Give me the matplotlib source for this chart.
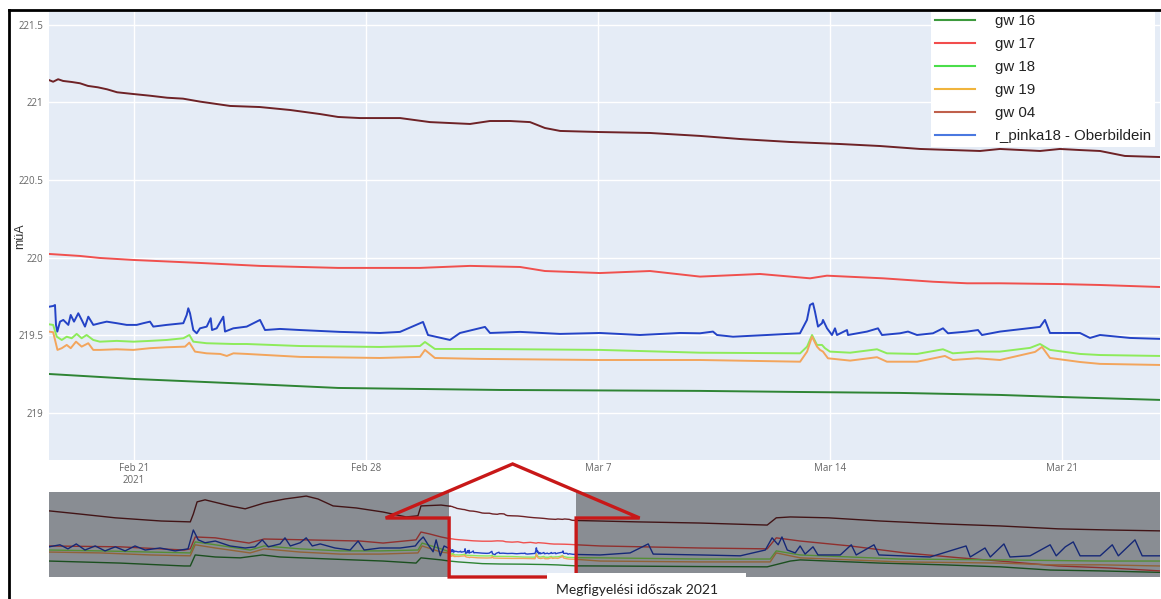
import numpy as np
import pandas as pd
import matplotlib
matplotlib.use("Agg")
import matplotlib.pyplot as plt
import matplotlib.dates as mdates
import matplotlib.transforms as mtransforms
from matplotlib.patches import Polygon, Rectangle
from matplotlib.lines import Line2D

#all times are day offsets from this date
base = pd.Timestamp("2021-02-18")

labels = ["gw 16", "gw 17", "gw 18", "gw 19", "gw 04", "r_pinka18 - Oberbildein"]
line_colors = ["#2e8434", "#f0504e", "#8deb5a", "#f3a55c", "#6e2226", "#2443c6"]
legend_colors = ["#3d9a3d", "#f24d4d", "#4ade4a", "#f0b43c", "#c0604c", "#4a78e0"]

#main window (Feb 18 - Mar 24)
gw16_days = [0.43, 2.98, 6.5, 9.16, 14.04, 20.08, 23.1, 26.11, 29.13, 30.94, 33.96]
gw16 = [219.251, 219.219, 219.187, 219.161, 219.148, 219.142, 219.135, 219.129, 219.116, 219.103, 219.084]

gw17_days = [0.43, 1.37, 1.97, 3.0, 4.99, 6.8, 9.16, 11.63, 13.14, 14.65, 15.4, 17.06,
             18.57, 20.08, 21.89, 23.4, 23.91, 25.6, 27.11, 28.14, 29.13, 30.94, 32.15, 33.96]
gw17 = [220.024, 220.011, 219.998, 219.985, 219.966, 219.947, 219.934, 219.934, 219.947, 219.940, 219.914, 219.901,
        219.914, 219.878, 219.895, 219.867, 219.884, 219.867, 219.845, 219.835, 219.835, 219.830, 219.824, 219.811]

gw18_days = [0.43, 0.56, 0.67, 0.82, 0.97, 1.12, 1.27, 1.42, 1.57, 1.77,
             1.97, 2.48, 2.98, 3.48, 3.99, 4.49, 4.67, 4.79, 5.19, 6.0,
             6.4, 8.01, 10.42, 11.63, 11.78, 12.08, 13.44, 17.06, 20.08, 23.1,
             23.31, 23.46, 23.61, 23.76, 23.85, 24.0, 24.61, 25.42, 25.72, 26.63,
             27.41, 27.71, 28.44, 29.13, 30.04, 30.34, 30.64, 31.55, 32.15, 33.96]
gw18 = [219.571, 219.567, 219.491, 219.470, 219.491, 219.481, 219.509, 219.481, 219.502, 219.470,
        219.459, 219.464, 219.459, 219.464, 219.470, 219.481, 219.502, 219.459, 219.449, 219.444,
        219.444, 219.431, 219.425, 219.431, 219.457, 219.412, 219.412, 219.406, 219.388, 219.384,
        219.427, 219.502, 219.438, 219.438, 219.417, 219.395, 219.388, 219.410, 219.384, 219.380,
        219.410, 219.384, 219.395, 219.395, 219.419, 219.444, 219.406, 219.380, 219.373, 219.367]

gw19_days = [0.43, 0.56, 0.69, 0.82, 0.97, 1.09, 1.25, 1.42, 1.62, 1.77,
             1.97, 2.48, 2.98, 3.48, 3.99, 4.54, 4.67, 4.84, 5.19, 5.6,
             5.8, 6.0, 6.4, 8.01, 10.42, 11.63, 11.78, 12.08, 13.44, 17.06,
             20.08, 23.1, 23.31, 23.46, 23.61, 23.7, 23.79, 23.94, 24.61, 25.42,
             25.72, 26.63, 27.47, 27.71, 28.44, 29.13, 30.19, 30.4, 30.64, 31.55,
             32.15, 33.96]
gw19 = [219.524, 219.520, 219.406, 219.417, 219.438, 219.417, 219.459, 219.427, 219.449, 219.406,
        219.406, 219.410, 219.406, 219.417, 219.423, 219.427, 219.453, 219.395, 219.384, 219.380,
        219.367, 219.384, 219.380, 219.361, 219.354, 219.361, 219.406, 219.354, 219.348, 219.341,
        219.341, 219.330, 219.395, 219.491, 219.427, 219.406, 219.395, 219.352, 219.337, 219.359,
        219.330, 219.330, 219.367, 219.341, 219.352, 219.341, 219.393, 219.425, 219.354, 219.328,
        219.316, 219.309]

gw04_days = [0.43, 0.56, 0.71, 0.86, 1.13, 1.37, 1.61, 1.91, 2.19, 2.49,
             2.97, 3.48, 4.0, 4.48, 4.99, 5.9, 6.8, 7.71, 8.61, 9.16,
             9.82, 11.03, 11.93, 13.14, 13.74, 14.35, 14.95, 15.4, 15.86, 17.06,
             18.57, 20.08, 21.29, 22.8, 24.3, 25.51, 26.72, 28.53, 29.13, 30.34,
             30.94, 31.55, 32.15, 32.9, 33.96]
gw04 = [221.144, 221.133, 221.149, 221.138, 221.131, 221.123, 221.106, 221.097, 221.084, 221.065,
        221.054, 221.043, 221.030, 221.024, 221.005, 220.977, 220.970, 220.951, 220.925, 220.906,
        220.899, 220.899, 220.873, 220.861, 220.880, 220.880, 220.873, 220.835, 220.816, 220.809,
        220.803, 220.784, 220.764, 220.745, 220.732, 220.719, 220.700, 220.687, 220.700, 220.687,
        220.700, 220.693, 220.687, 220.655, 220.648]

pinka_days = [0.435, 0.565, 0.616, 0.646, 0.686, 0.767, 0.867, 1.018, 1.090, 1.190,
              1.319, 1.422, 1.521, 1.621, 1.772, 1.974, 2.176, 2.478, 2.780, 3.081,
              3.281, 3.483, 3.582, 3.987, 4.488, 4.590, 4.638, 4.690, 4.789, 4.892,
              4.992, 5.194, 5.314, 5.354, 5.495, 5.695, 5.746, 5.996, 6.401, 6.802,
              6.953, 7.406, 8.009, 8.613, 9.216, 10.423, 11.027, 11.721, 11.871, 12.535,
              12.837, 13.591, 13.742, 14.647, 15.855, 17.062, 18.268, 19.476, 20.079, 20.471,
              20.592, 21.075, 22.101, 23.096, 23.307, 23.398, 23.489, 23.549, 23.640, 23.761,
              23.791, 23.912, 24.062, 24.153, 24.213, 24.515, 24.545, 25.118, 25.450, 25.571,
              26.114, 26.356, 26.627, 27.110, 27.412, 27.562, 28.136, 28.468, 28.588, 29.131,
              30.339, 30.489, 30.640, 31.545, 31.847, 32.149, 33.054, 33.959]
pinka = [219.684, 219.689, 219.695, 219.567, 219.524, 219.588, 219.599, 219.567, 219.631, 219.588,
         219.642, 219.599, 219.556, 219.620, 219.567, 219.578, 219.588, 219.578, 219.567, 219.567,
         219.578, 219.588, 219.556, 219.567, 219.578, 219.631, 219.674, 219.642, 219.534, 219.513,
         219.545, 219.556, 219.610, 219.534, 219.545, 219.620, 219.524, 219.545, 219.556, 219.599,
         219.534, 219.541, 219.534, 219.528, 219.522, 219.515, 219.522, 219.586, 219.502, 219.470,
         219.515, 219.554, 219.515, 219.522, 219.509, 219.515, 219.502, 219.515, 219.513, 219.524,
         219.502, 219.491, 219.502, 219.513, 219.599, 219.695, 219.706, 219.652, 219.556, 219.578,
         219.599, 219.545, 219.502, 219.545, 219.502, 219.534, 219.502, 219.524, 219.545, 219.502,
         219.513, 219.524, 219.502, 219.513, 219.545, 219.513, 219.524, 219.534, 219.502, 219.524,
         219.554, 219.599, 219.515, 219.515, 219.483, 219.502, 219.483, 219.477]

#rest of the record, only shown in the range slider
gw16_pre_days = [-105.2, -86.4, -69.5, -67.9, -66.6, -61.3, -54.7, -48.9, -44.2, -31.0, -17.0, -8.3, -7.0, -1.7]
gw16_pre = [219.25, 219.18, 219.08, 219.08, 219.46, 219.39, 219.36, 219.46, 219.39, 219.32, 219.25, 219.18, 219.36, 219.29]
gw16_post_days = [40.3, 66.7, 84.4, 90.5, 93.1, 100.5, 114.2, 130.8, 145.9, 159.1, 172.3, 188.1]
gw16_post = [219.08, 219.06, 219.05, 219.25, 219.29, 219.25, 219.18, 219.12, 219.05, 218.94, 218.91, 218.86]

gw17_pre_days = [-105.2, -86.4, -69.5, -67.9, -66.6, -61.3, -52.4, -48.4, -37.3, -23.1, -17.0, -8.3, -7.0, -4.6, -1.7]
gw17_pre = [219.77, 219.74, 219.63, 219.67, 220.08, 220.05, 219.87, 220.01, 219.98, 219.94, 219.87, 219.98, 220.25, 220.18, 220.08]
gw17_post_days = [40.3, 66.7, 84.4, 86.8, 93.1, 106.3, 120.8, 135.3, 145.9, 161.2, 174.9, 188.1]
gw17_post = [219.77, 219.70, 219.67, 220.05, 219.94, 219.77, 219.53, 219.36, 219.25, 219.08, 219.01, 218.91]

gw18_pre_days = [-105.2, -91.7, -78.5, -67.9, -66.6, -61.3, -52.1, -48.4, -38.9, -28.3, -17.8, -7.8, -6.7, -1.7]
gw18_pre = [219.63, 219.60, 219.56, 219.53, 219.91, 219.81, 219.63, 219.77, 219.67, 219.60, 219.60, 219.63, 219.87, 219.67]
gw18_post_days = [40.3, 66.7, 85.2, 86.8, 93.1, 106.3, 119.5, 145.9, 172.3, 188.1]
gw18_post = [219.36, 219.32, 219.32, 219.60, 219.46, 219.39, 219.32, 219.29, 219.25, 219.25]

gw19_pre_days = [-105.2, -91.7, -78.5, -67.9, -66.6, -61.3, -52.1, -48.4, -38.9, -28.3, -17.8, -7.8, -6.7, -1.7]
gw19_pre = [219.56, 219.53, 219.46, 219.43, 219.81, 219.70, 219.53, 219.67, 219.56, 219.49, 219.49, 219.53, 219.77, 219.56]
gw19_post_days = [40.3, 66.7, 85.2, 86.8, 93.1, 106.3, 119.5, 145.9, 159.1, 172.3, 188.1]
gw19_post = [219.25, 219.22, 219.22, 219.53, 219.36, 219.29, 219.22, 219.18, 219.12, 219.12, 219.08]

gw04_pre_days = [-105.2, -97.0, -87.7, -75.6, -67.9, -67.1, -66.1, -64.0, -57.4, -53.4, -48.4,
                 -42.9, -38.9, -37.3, -34.2, -30.2, -24.1, -17.0, -10.9, -7.8, -7.0, -1.7]
gw04_pre = [220.98, 220.87, 220.74, 220.63, 220.60, 220.87, 221.29, 221.36, 221.15, 221.05, 221.25,
            221.39, 221.46, 221.49, 221.39, 221.15, 221.08, 220.94, 220.77, 220.81, 221.15, 221.18]
gw04_post_days = [40.3, 50.1, 66.7, 84.4, 86.8, 90.5, 100.5, 114.2, 130.8, 145.9, 161.2, 174.9, 188.1]
gw04_post = [220.63, 220.60, 220.56, 220.49, 220.74, 220.77, 220.74, 220.63, 220.53, 220.46, 220.36, 220.32, 220.29]

pinka_pre_days = [-105.2, -102.3, -100.2, -98.0, -95.7, -93.0, -90.4, -87.7, -85.1, -82.5,
                  -79.8, -75.9, -71.9, -68.5, -67.1, -65.8, -64.0, -61.3, -57.4, -53.4,
                  -50.8, -48.9, -47.3, -44.2, -42.9, -41.5, -38.9, -37.3, -35.7, -33.6,
                  -29.7, -25.7, -23.6, -22.0, -17.8, -12.5, -8.5, -7.5, -6.4, -5.1,
                  -3.8, -3.0, -1.9, -0.9]
pinka_pre = [219.74, 219.81, 219.67, 219.84, 219.63, 219.77, 219.60, 219.74, 219.60, 219.77,
             219.63, 219.70, 219.60, 219.67, 220.32, 219.98, 219.88, 219.94, 219.77, 219.70,
             219.74, 219.98, 219.74, 219.84, 220.05, 219.77, 219.88, 220.05, 219.77, 219.84,
             219.70, 219.63, 219.94, 219.63, 219.70, 219.70, 219.77, 219.94, 220.08, 219.81,
             219.57, 219.98, 219.43, 219.77]
pinka_post_days = [40.3, 48.2, 53.0, 54.3, 66.7, 77.3, 83.9, 85.7, 87.3, 88.3,
                   89.7, 91.8, 93.1, 94.4, 96.5, 97.8, 103.7, 106.6, 107.9, 112.6,
                   113.9, 119.5, 127.4, 136.9, 138.0, 141.9, 143.3, 146.9, 148.5, 153.8,
                   159.1, 160.7, 163.1, 165.2, 167.0, 172.3, 175.5, 177.1, 181.5, 183.4,
                   188.1]
pinka_post = [219.46, 219.53, 219.84, 219.49, 219.46, 219.43, 219.63, 220.05, 219.81, 220.08,
              219.63, 219.53, 219.77, 219.49, 219.74, 219.46, 219.46, 219.81, 219.46, 219.81,
              219.46, 219.43, 219.39, 219.77, 219.39, 219.70, 219.39, 219.84, 219.39, 219.43,
              219.81, 219.43, 219.74, 219.91, 219.43, 219.43, 219.81, 219.43, 219.98, 219.43,
              219.43]

tick_days = [3, 10, 17, 24, 31]
tick_labels = ["Feb 21\n2021", "Feb 28", "Mar 7", "Mar 14", "Mar 21"]
y_ticks = [219, 219.5, 220, 220.5, 221, 221.5]
y_labels = ["219", "219.5", "220", "220.5", "221", "221.5"]
caption = "Megfigyelési időszak 2021"


def to_dates(days):
    return (base + pd.to_timedelta(np.asarray(days, dtype=float), unit="D")).to_numpy()


main_series = [(gw16_days, gw16), (gw17_days, gw17), (gw18_days, gw18),
               (gw19_days, gw19), (gw04_days, gw04), (pinka_days, pinka)]
pre_series = [(gw16_pre_days, gw16_pre), (gw17_pre_days, gw17_pre), (gw18_pre_days, gw18_pre),
              (gw19_pre_days, gw19_pre), (gw04_pre_days, gw04_pre), (pinka_pre_days, pinka_pre)]
post_series = [(gw16_post_days, gw16_post), (gw17_post_days, gw17_post), (gw18_post_days, gw18_post),
               (gw19_post_days, gw19_post), (gw04_post_days, gw04_post), (pinka_post_days, pinka_post)]

view_start = base + pd.Timedelta(days=0.435)
view_end = base + pd.Timedelta(days=33.96)
slider_start = base + pd.Timedelta(days=-105.2)
slider_end = base + pd.Timedelta(days=188.1)

W, H = 1161, 599
fig = plt.figure(figsize=(W / 100, H / 100), dpi=100)
fig.patch.set_facecolor("white")

#main plot
ax = fig.add_axes([49 / W, 1 - 460 / H, 1111 / W, 448 / H])
ax.set_facecolor("#e5ecf6")
for (d, v), c in zip(main_series, line_colors):
    ax.plot(to_dates(d), v, color=c, linewidth=1.4, solid_joinstyle="round")
ax.set_xlim(view_start, view_end)
ax.set_ylim(218.697, 221.582)
ax.set_xticks(to_dates(tick_days))
ax.set_xticklabels(tick_labels)
ax.set_yticks(y_ticks)
ax.set_yticklabels(y_labels)
ax.grid(True, color="white", linewidth=1.0)
ax.set_axisbelow(True)
for s in ax.spines.values():
    s.set_visible(False)
ax.tick_params(length=0, labelsize=7, labelcolor="#666666")
ax.tick_params(axis="x", pad=2)
ax.tick_params(axis="y", pad=4)
for t in ax.get_xticklabels() + ax.get_yticklabels():
    t.set_fontfamily("Open Sans")
ax.set_ylabel("müA", fontsize=9, color="#333333", family="Liberation Sans")
ax.yaxis.set_label_coords(-0.021, 0.5)

handles = [Line2D([], [], color=c, linewidth=1.5) for c in legend_colors]
leg = fig.legend(handles, labels, loc="upper left", bbox_to_anchor=(931 / W, 1 - 10 / H),
                 borderaxespad=0, frameon=True, fancybox=False, framealpha=1,
                 facecolor="white", edgecolor="none", handlelength=2.7, handletextpad=1.3,
                 labelspacing=0.6, borderpad=0.25, prop={"family": "Liberation Sans", "size": 10.8})
leg.get_frame().set_boxstyle("square", pad=0)
for t in leg.get_texts():
    t.set_color("#222222")

#range slider with the whole record
ax2 = fig.add_axes([49 / W, 1 - 577 / H, 1111 / W, 85 / H])
ax2.set_facecolor("#e5ecf6")
for (d0, v0), (d1, v1), (d2, v2), c in zip(pre_series, main_series, post_series, line_colors):
    days = np.concatenate([d0, d1, d2])
    vals = np.concatenate([v0, v1, v2])
    ax2.plot(to_dates(days), vals, color=c, linewidth=1.0)
ax2.set_xlim(slider_start, slider_end)
ax2.set_ylim(218.70, 221.63)
ax2.axvspan(slider_start, view_start, color="black", alpha=0.4, linewidth=0, zorder=5)
ax2.axvspan(view_end, slider_end, color="black", alpha=0.4, linewidth=0, zorder=5)
ax2.set_xticks([])
ax2.set_yticks([])
for s in ax2.spines.values():
    s.set_visible(False)

#arrow outline pointing from the slider window up to the main plot
lo = mdates.date2num(view_start)
hi = mdates.date2num(view_end)
mid = (lo + hi) / 2
half = (hi - lo) / 2
trans = mtransforms.blended_transform_factory(ax2.transData, ax2.transAxes)
arrow = Polygon([(lo, 0), (lo, 0.694), (mid - 2 * half, 0.694), (mid, 1.33),
                 (mid + 2 * half, 0.694), (hi, 0.694), (hi, 0)],
                closed=True, fill=False, edgecolor="#c81818", linewidth=2.4,
                joinstyle="miter", transform=trans, clip_on=False, zorder=10)
ax2.add_patch(arrow)

#caption box
fig.add_artist(Rectangle((547 / W, 0), 199 / W, 26 / H, transform=fig.transFigure,
                         facecolor="white", edgecolor="none", zorder=5))
fig.text(637 / W, 1 - 590 / H, caption, ha="center", va="center", fontsize=10,
         family="Lato", color="#222222", zorder=6)

#frame
fig.add_artist(Line2D([9 / W, 9 / W], [0, 1 - 10 / H], color="black", linewidth=2, zorder=7))
fig.add_artist(Line2D([9 / W, 1], [1 - 10 / H, 1 - 10 / H], color="black", linewidth=2, zorder=7))

fig.savefig("out.png", dpi=100)
